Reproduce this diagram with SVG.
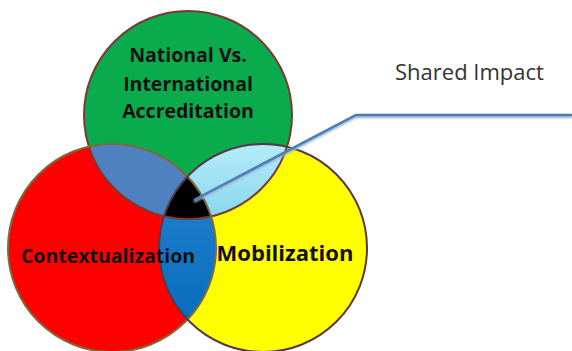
<svg xmlns="http://www.w3.org/2000/svg" width="572" height="351" viewBox="0 0 572 351">
<style>
.lbl{font-family:"Open Sans","Liberation Sans",sans-serif;font-weight:bold;fill:#111;text-anchor:middle}
.note{font-family:"Open Sans","Liberation Sans",sans-serif;fill:#333}
</style>
<defs>
<clipPath id="cG"><circle cx="188" cy="115" r="104"/></clipPath>
<clipPath id="cR"><circle cx="112" cy="248" r="104"/></clipPath>
<clipPath id="cY"><circle cx="263" cy="248" r="104"/></clipPath>
<linearGradient id="gCyan" x1="0" y1="0" x2="0" y2="1">
<stop offset="0" stop-color="#b4ecf8"/><stop offset="1" stop-color="#3aaed8"/>
</linearGradient>
<linearGradient id="gBlue" x1="0" y1="0" x2="0" y2="1">
<stop offset="0" stop-color="#2a86d4"/><stop offset="1" stop-color="#0068b8"/>
</linearGradient>
<filter id="sh" x="-5%" y="-20%" width="110%" height="140%"><feGaussianBlur stdDeviation="0.8"/></filter>
</defs>
<rect width="572" height="351" fill="#fff"/>
<g id="node-accreditation"><circle cx="188" cy="115" r="104" fill="#0aab4c"/></g>
<g id="node-contextualization"><circle cx="112" cy="248" r="104" fill="#ff0000"/></g>
<g id="node-mobilization"><circle cx="263" cy="248" r="104" fill="#ffff00"/></g>
<g id="overlaps">
<circle cx="112" cy="248" r="104" fill="#4f80bf" clip-path="url(#cG)"/>
<circle cx="263" cy="248" r="104" fill="url(#gCyan)" clip-path="url(#cG)"/>
<circle cx="263" cy="248" r="104" fill="url(#gBlue)" clip-path="url(#cR)"/>
<g clip-path="url(#cR)"><circle cx="263" cy="248" r="104" fill="#000" clip-path="url(#cG)"/></g>
</g>
<g id="outlines" fill="none" stroke-width="2">
<circle cx="188" cy="115" r="104" stroke="#7a3a34"/>
<circle cx="112" cy="248" r="104" stroke="#7d6a3a"/>
<circle cx="263" cy="248" r="104" stroke="#5a3648"/>
</g>
<g id="connectors">
<polyline points="194,200 356,115 572,115" fill="none" stroke="#9bb0c8" stroke-width="3" filter="url(#sh)" transform="translate(0,1.5)"/>
<polyline points="194,200 356,115 572,115" fill="none" stroke="#4a7ebb" stroke-width="2.5"/>
</g>
<g id="labels">
<text class="lbl" x="188" y="62" font-size="19.5">National Vs.</text>
<text class="lbl" x="188" y="91" font-size="19.5">International</text>
<text class="lbl" x="188" y="118" font-size="19.5">Accreditation</text>
<text class="lbl" x="108" y="263" font-size="19.5">Contextualization</text>
<text class="lbl" x="285" y="261" font-size="22">Mobilization</text>
<text class="note" x="395" y="80" font-size="22">Shared Impact</text>
</g>
</svg>
